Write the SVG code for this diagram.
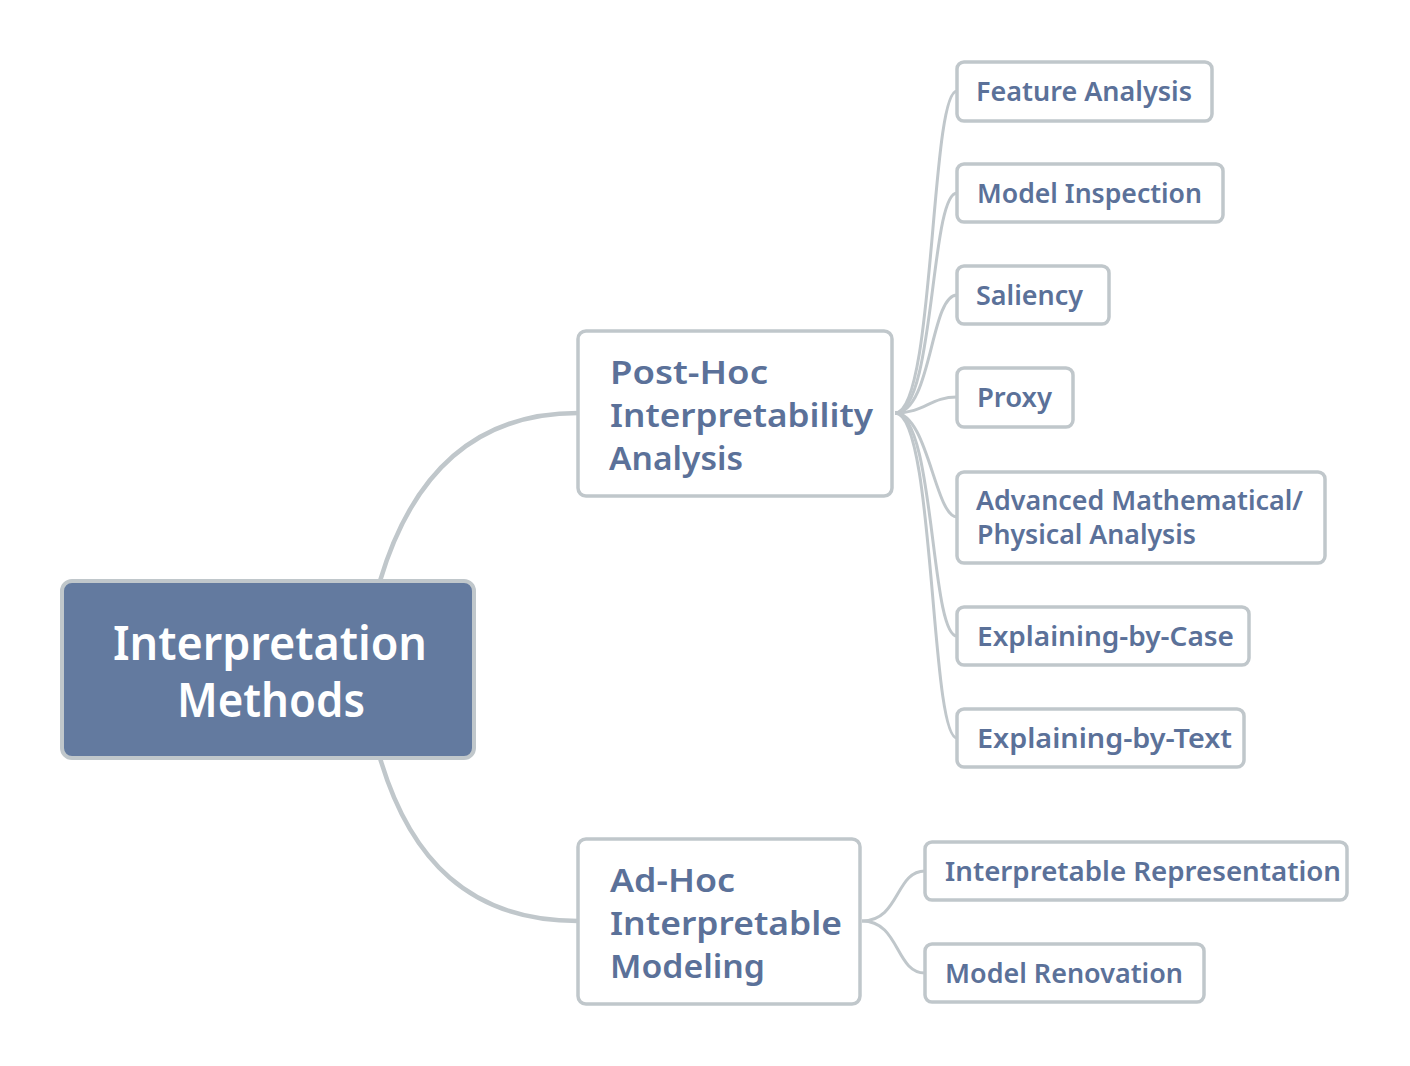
<svg xmlns="http://www.w3.org/2000/svg" width="1410" height="1066" viewBox="0 0 1410 1066">
<style>
.box{fill:#ffffff;stroke:#c0c7cb;stroke-width:3.5}
.root{fill:#637a9f;stroke:#c0c7cb;stroke-width:4}
.t{font-family:"Noto Sans","Open Sans",sans-serif;font-weight:600;fill:#5b7199}
.leaf{font-size:27px}
.mid{font-size:33px}
.rt{font-family:"Noto Sans","Open Sans",sans-serif;font-weight:600;fill:#ffffff;font-size:46px;text-anchor:middle}
.c{fill:none;stroke:#c0c7cb;stroke-width:3}
.cm{fill:none;stroke:#c0c7cb;stroke-width:4.5}
</style>
<rect width="1410" height="1066" fill="#ffffff"/>
<g id="connectors">
<path class="cm" d="M380 581 C410 480 470 413 578 413"/>
<path class="cm" d="M380 758 C410 860 470 921 578 921"/>
<path class="c" d="M895 413 C935 413 930 91 957 91"/>
<path class="c" d="M895 413 C935 413 930 193 957 193"/>
<path class="c" d="M895 413 C932 413 930 295 957 295"/>
<path class="c" d="M895 413 C925 413 930 397 957 397"/>
<path class="c" d="M895 413 C928 413 935 517 957 517"/>
<path class="c" d="M895 413 C935 413 930 636 957 636"/>
<path class="c" d="M895 413 C935 413 930 738 957 738"/>
<path class="c" d="M862 921 C900 921 895 871 925 871"/>
<path class="c" d="M862 921 C900 921 895 973 925 973"/>
</g>
<g id="root">
<rect class="root" x="62" y="581" width="412" height="177" rx="10"/>
<text class="rt" x="270" y="660" textLength="314" lengthAdjust="spacingAndGlyphs">Interpretation</text>
<text class="rt" x="271" y="717" textLength="188" lengthAdjust="spacingAndGlyphs">Methods</text>
</g>
<g id="posthoc">
<rect class="box" x="578" y="331" width="314" height="165" rx="8"/>
<text class="t mid" x="610" y="384" textLength="158" lengthAdjust="spacingAndGlyphs">Post-Hoc</text>
<text class="t mid" x="610" y="427" textLength="263" lengthAdjust="spacingAndGlyphs">Interpretability</text>
<text class="t mid" x="609" y="470" textLength="134" lengthAdjust="spacingAndGlyphs">Analysis</text>
</g>
<g id="adhoc">
<rect class="box" x="578" y="839" width="282" height="165" rx="8"/>
<text class="t mid" x="610" y="892" textLength="125" lengthAdjust="spacingAndGlyphs">Ad-Hoc</text>
<text class="t mid" x="610" y="935" textLength="232" lengthAdjust="spacingAndGlyphs">Interpretable</text>
<text class="t mid" x="610" y="978" textLength="155" lengthAdjust="spacingAndGlyphs">Modeling</text>
</g>
<g id="feature-analysis">
<rect class="box" x="957" y="62" width="255" height="59" rx="7"/>
<text class="t leaf" x="976" y="101" textLength="216" lengthAdjust="spacingAndGlyphs">Feature Analysis</text>
</g>
<g id="model-inspection">
<rect class="box" x="957" y="164" width="266" height="58" rx="7"/>
<text class="t leaf" x="977" y="203" textLength="225" lengthAdjust="spacingAndGlyphs">Model Inspection</text>
</g>
<g id="saliency">
<rect class="box" x="957" y="266" width="152" height="58" rx="7"/>
<text class="t leaf" x="976" y="305" textLength="107" lengthAdjust="spacingAndGlyphs">Saliency</text>
</g>
<g id="proxy">
<rect class="box" x="957" y="368" width="116" height="59" rx="7"/>
<text class="t leaf" x="977" y="407" textLength="75" lengthAdjust="spacingAndGlyphs">Proxy</text>
</g>
<g id="advanced">
<rect class="box" x="957" y="472" width="368" height="91" rx="7"/>
<text class="t leaf" x="976" y="510" textLength="327" lengthAdjust="spacingAndGlyphs">Advanced Mathematical/</text>
<text class="t leaf" x="977" y="544" textLength="219" lengthAdjust="spacingAndGlyphs">Physical Analysis</text>
</g>
<g id="explaining-case">
<rect class="box" x="957" y="607" width="292" height="58" rx="7"/>
<text class="t leaf" x="977" y="646" textLength="257" lengthAdjust="spacingAndGlyphs">Explaining-by-Case</text>
</g>
<g id="explaining-text">
<rect class="box" x="957" y="709" width="287" height="58" rx="7"/>
<text class="t leaf" x="977" y="748" textLength="255" lengthAdjust="spacingAndGlyphs">Explaining-by-Text</text>
</g>
<g id="interpretable-representation">
<rect class="box" x="925" y="842" width="422" height="58" rx="7"/>
<text class="t leaf" x="945" y="881" textLength="396" lengthAdjust="spacingAndGlyphs">Interpretable Representation</text>
</g>
<g id="model-renovation">
<rect class="box" x="925" y="944" width="279" height="58" rx="7"/>
<text class="t leaf" x="945" y="983" textLength="238" lengthAdjust="spacingAndGlyphs">Model Renovation</text>
</g>
</svg>
